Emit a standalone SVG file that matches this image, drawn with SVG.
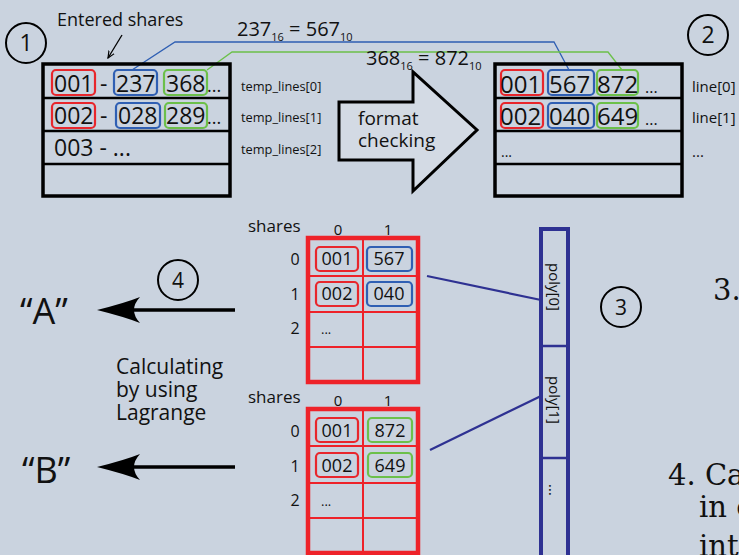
<svg xmlns="http://www.w3.org/2000/svg" width="739" height="555" viewBox="0 0 739 555">
<defs>
<style>
text{font-family:"Open Sans","Noto Sans","Liberation Sans",sans-serif;fill:#111}
.big{font-size:23px}
.lbl{font-size:12.8px}
.grid{font-size:18px}
.serif{font-family:"DejaVu Serif","Liberation Serif",serif;font-size:29px}
.tbl{fill:none;stroke:#000;stroke-width:3.5}
.row{stroke:#000;stroke-width:2.5}
.rb{fill:none;stroke:#e8262c;stroke-width:2.2}
.bb{fill:none;stroke:#2f5fb3;stroke-width:2.2}
.gb{fill:none;stroke:#6cc04a;stroke-width:2.2}
.circ{fill:none;stroke:#000;stroke-width:2}
.gout{fill:none;stroke:#ee2229;stroke-width:4.5}
.gin{stroke:#ee2229;stroke-width:2}
.navy{stroke:#2e3192;fill:none}
</style>
<marker id="hd" viewBox="0 0 10 10" refX="9" refY="5" markerWidth="6" markerHeight="6" orient="auto">
<path d="M0,1 L9,5 L0,9" fill="none" stroke="#000" stroke-width="1.5"/>
</marker>
</defs>
<rect x="0" y="0" width="739" height="555" fill="#cad3df"/>

<g id="connectors">
<polyline points="132,70 175,42 554,42 569,70" fill="none" stroke="#2f5fb3" stroke-width="1.3"/>
<polyline points="207,70 232,52 608,52 622,70" fill="none" stroke="#6cc04a" stroke-width="1.3"/>
<line x1="122" y1="35" x2="108" y2="58" stroke="#000" stroke-width="1.3" marker-end="url(#hd)"/>
<line x1="427" y1="276" x2="541" y2="300" class="navy" stroke-width="2.2"/>
<line x1="430" y1="450" x2="541" y2="396" class="navy" stroke-width="2.2"/>
<path d="M235,310 H110" stroke="#000" stroke-width="3.5" fill="none"/>
<path d="M97,310 Q125,303 140,297 Q128,310 140,323 Q125,317 97,310 Z" fill="#000"/>
<path d="M235,467 H110" stroke="#000" stroke-width="3.5" fill="none"/>
<path d="M97,467 Q125,460 140,454 Q128,467 140,480 Q125,474 97,467 Z" fill="#000"/>
</g>

<g id="step1">
<circle cx="26" cy="43" r="20" class="circ"/>
<text x="26" y="51" font-size="23" text-anchor="middle">1</text>
<text x="57" y="26" font-size="18">Entered shares</text>
</g>

<g id="temp_lines">
<rect x="43" y="64" width="187" height="132" class="tbl"/>
<line x1="43" y1="98" x2="230" y2="98" class="row"/>
<line x1="43" y1="131" x2="230" y2="131" class="row"/>
<line x1="43" y1="164" x2="230" y2="164" class="row"/>
<rect x="52" y="70" width="43" height="25" rx="4" class="rb"/>
<rect x="114" y="70" width="43" height="25" rx="4" class="bb"/>
<rect x="164" y="70" width="43" height="25" rx="4" class="gb"/>
<rect x="52" y="103" width="43" height="25" rx="4" class="rb"/>
<rect x="116" y="103" width="44" height="25" rx="4" class="bb"/>
<rect x="165" y="103" width="42" height="25" rx="4" class="gb"/>
<text x="54" y="92" class="big">001<tspan x="100">-</tspan><tspan x="116">237</tspan><tspan x="166">368</tspan><tspan x="207" font-size="18">...</tspan></text>
<text x="54" y="124" class="big">002<tspan x="100">-</tspan><tspan x="118">028</tspan><tspan x="166">289</tspan><tspan x="207" font-size="18">...</tspan></text>
<text x="54" y="156" class="big">003 - ...</text>
<text x="241" y="91" class="lbl">temp_lines[0]</text>
<text x="241" y="122" class="lbl">temp_lines[1]</text>
<text x="241" y="154" class="lbl">temp_lines[2]</text>
</g>

<g id="conversions">
<text x="237" y="36" font-size="20">237<tspan font-size="11" dy="5">16</tspan><tspan dy="-5"> = 567</tspan><tspan font-size="11" dy="5">10</tspan></text>
<text x="366" y="65" font-size="20">368<tspan font-size="11" dy="5">16</tspan><tspan dy="-5"> = 872</tspan><tspan font-size="11" dy="5">10</tspan></text>
</g>

<g id="format_checking">
<polygon points="339,102 413,102 413,72 477,130 413,191 413,160 339,160" fill="#d3dae4" stroke="#000" stroke-width="3"/>
<text x="358" y="125" font-size="19">format</text>
<text x="358" y="147" font-size="19">checking</text>
</g>

<g id="lines">
<circle cx="708" cy="35" r="20" class="circ"/>
<text x="708" y="43" font-size="23" text-anchor="middle">2</text>
<rect x="495" y="64" width="187" height="132" class="tbl"/>
<line x1="495" y1="98" x2="682" y2="98" class="row"/>
<line x1="495" y1="131" x2="682" y2="131" class="row"/>
<line x1="495" y1="164" x2="682" y2="164" class="row"/>
<rect x="501" y="70" width="42" height="25" rx="4" class="rb"/>
<rect x="548" y="70" width="46" height="25" rx="4" class="bb"/>
<rect x="597" y="70" width="41" height="25" rx="4" class="gb"/>
<rect x="501" y="103" width="42" height="25" rx="4" class="rb"/>
<rect x="548" y="103" width="46" height="25" rx="4" class="bb"/>
<rect x="597" y="103" width="41" height="25" rx="4" class="gb"/>
<text x="500" y="93" font-size="24">001<tspan x="549">567</tspan><tspan x="597">872</tspan><tspan x="645" font-size="16">...</tspan></text>
<text x="500" y="125" font-size="24">002<tspan x="549">040</tspan><tspan x="597">649</tspan><tspan x="645" font-size="16">...</tspan></text>
<text x="501" y="157" font-size="14">...</text>
<text x="692" y="92" font-size="15">line[0]</text>
<text x="692" y="123" font-size="15">line[1]</text>
<text x="692" y="157" font-size="15">...</text>
</g>

<g id="shares0">
<text x="248" y="232" font-size="17">shares</text>
<text x="338" y="235" font-size="15" text-anchor="middle">0</text>
<text x="388" y="235" font-size="15" text-anchor="middle">1</text>
<text x="295" y="265" font-size="16" text-anchor="middle">0</text>
<text x="295" y="300" font-size="16" text-anchor="middle">1</text>
<text x="295" y="334" font-size="16" text-anchor="middle">2</text>
<line x1="363" y1="238" x2="363" y2="382" class="gin"/>
<line x1="308" y1="276" x2="418" y2="276" class="gin"/>
<line x1="308" y1="312" x2="418" y2="312" class="gin"/>
<line x1="308" y1="347" x2="418" y2="347" class="gin"/>
<rect x="308" y="238" width="110" height="144" class="gout"/>
<rect x="316" y="247" width="42" height="24" rx="4" class="rb"/>
<rect x="367" y="247" width="45" height="24" rx="4" class="bb"/>
<rect x="316" y="282" width="42" height="24" rx="4" class="rb"/>
<rect x="367" y="282" width="45" height="24" rx="4" class="bb"/>
<text x="337" y="265" class="grid" text-anchor="middle">001</text>
<text x="389" y="265" class="grid" text-anchor="middle">567</text>
<text x="337" y="300" class="grid" text-anchor="middle">002</text>
<text x="389" y="300" class="grid" text-anchor="middle">040</text>
<text x="321" y="334" font-size="13">...</text>
</g>

<g id="shares1">
<text x="248" y="403" font-size="17">shares</text>
<text x="338" y="406" font-size="15" text-anchor="middle">0</text>
<text x="388" y="406" font-size="15" text-anchor="middle">1</text>
<text x="295" y="437" font-size="16" text-anchor="middle">0</text>
<text x="295" y="472" font-size="16" text-anchor="middle">1</text>
<text x="295" y="506" font-size="16" text-anchor="middle">2</text>
<line x1="363" y1="409" x2="363" y2="553" class="gin"/>
<line x1="308" y1="446" x2="418" y2="446" class="gin"/>
<line x1="308" y1="483" x2="418" y2="483" class="gin"/>
<line x1="308" y1="518" x2="418" y2="518" class="gin"/>
<rect x="308" y="409" width="110" height="144" class="gout"/>
<rect x="316" y="418" width="42" height="24" rx="4" class="rb"/>
<rect x="368" y="418" width="44" height="24" rx="4" class="gb"/>
<rect x="316" y="453" width="42" height="24" rx="4" class="rb"/>
<rect x="368" y="453" width="44" height="24" rx="4" class="gb"/>
<text x="337" y="437" class="grid" text-anchor="middle">001</text>
<text x="390" y="437" class="grid" text-anchor="middle">872</text>
<text x="337" y="472" class="grid" text-anchor="middle">002</text>
<text x="390" y="472" class="grid" text-anchor="middle">649</text>
<text x="321" y="506" font-size="13">...</text>
</g>

<g id="poly">
<rect x="541" y="229" width="27" height="340" class="navy" stroke-width="4"/>
<line x1="541" y1="346" x2="568" y2="346" class="navy" stroke-width="2.5"/>
<line x1="541" y1="458" x2="568" y2="458" class="navy" stroke-width="2.5"/>
<text transform="translate(549,287) rotate(90)" font-size="15" text-anchor="middle">poly[0]</text>
<text transform="translate(549,400) rotate(90)" font-size="15" text-anchor="middle">poly[1]</text>
<text transform="translate(549,490) rotate(90)" font-size="15" text-anchor="middle">...</text>
<circle cx="621" cy="307" r="20" class="circ"/>
<text x="621" y="315" font-size="21" text-anchor="middle">3</text>
</g>

<g id="lagrange">
<circle cx="178" cy="280" r="20" class="circ"/>
<text x="178" y="288" font-size="21" text-anchor="middle">4</text>
<text x="116" y="374" font-size="21">Calculating</text>
<text x="116" y="397" font-size="21">by using</text>
<text x="116" y="420" font-size="21">Lagrange</text>
<text x="20" y="324" font-size="36">“A”</text>
<text x="22" y="483" font-size="36">“B”</text>
</g>

<g id="side_text">
<text x="713" y="300" class="serif">3.</text>
<text x="668" y="485" class="serif">4. Ca</text>
<text x="699" y="517" class="serif">in e</text>
<text x="699" y="556" class="serif">int</text>
</g>
</svg>
